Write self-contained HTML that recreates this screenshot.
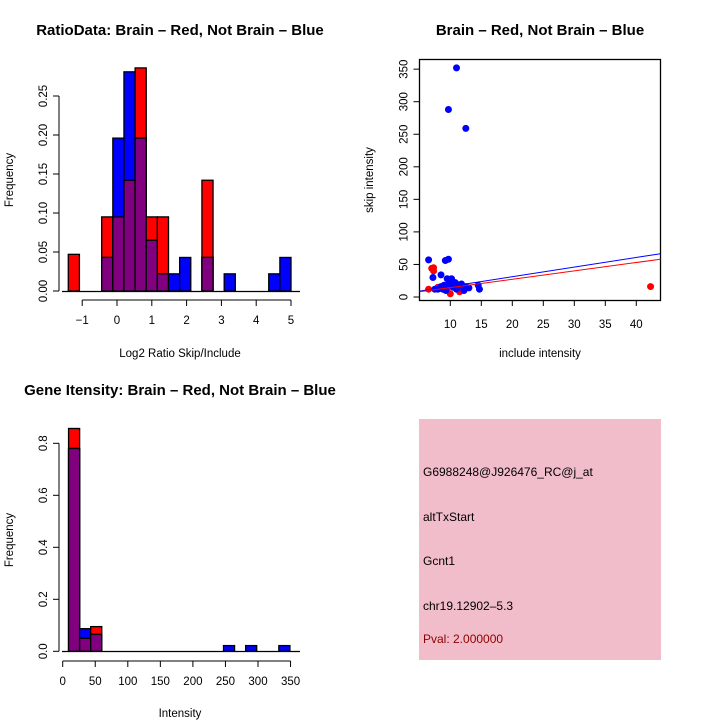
<!DOCTYPE html>
<html><head><meta charset="utf-8"><style>
body{margin:0;background:#fff}
svg{display:block;font-family:"Liberation Sans",sans-serif}
</style></head><body>
<svg id="s" width="720" height="720" viewBox="0 0 720 720">
<rect width="720" height="720" fill="#fff"/>
<text x="180" y="35" font-size="15" font-weight="bold" text-anchor="middle">RatioData: Brain – Red, Not Brain – Blue</text>
<text x="540" y="35" font-size="15" font-weight="bold" text-anchor="middle">Brain – Red, Not Brain – Blue</text>
<text x="180" y="395" font-size="15" font-weight="bold" text-anchor="middle">Gene Itensity: Brain – Red, Not Brain – Blue</text>
<text x="180" y="357" font-size="11.5" text-anchor="middle">Log2 Ratio Skip/Include</text>
<text x="13" y="180" font-size="11.5" text-anchor="middle" transform="rotate(-90 13 180)">Frequency</text>
<text x="540" y="357" font-size="11.5" text-anchor="middle">include intensity</text>
<text x="373" y="180" font-size="11.5" text-anchor="middle" transform="rotate(-90 373 180)">skip intensity</text>
<text x="180" y="717" font-size="11.5" text-anchor="middle">Intensity</text>
<text x="13" y="540" font-size="11.5" text-anchor="middle" transform="rotate(-90 13 540)">Frequency</text>
<g>
<rect x="419" y="419" width="242" height="241" fill="#f2bdca"/>
<g font-size="12">
<text x="423" y="476">G6988248@J926476_RC@j_at</text>
<text x="423" y="521">altTxStart</text>
<text x="423" y="565">Gcnt1</text>
<text x="423" y="610">chr19.12902–5.3</text>
<text x="423" y="643" fill="#8b0000">Pval: 2.000000</text>
</g></g>
<g id="g1"></g><g id="g2"></g><g id="g3"></g>
</svg>
<script>
// Ratio histogram data
const ratioBinStart = -1.4, ratioBinWidth = 0.32;
const ratioRed  = [0.047,0,0,0.095,0.095,0.142,0.286,0.095,0.095,0,0,0,0.142,0,0,0,0,0,0,0];
const ratioBlue = [0,0,0,0.043,0.196,0.281,0.196,0.065,0.022,0.022,0.043,0,0.043,0,0.022,0,0,0,0.022,0.043];
const ratioXTicks = [-1,0,1,2,3,4,5];
const ratioYTicks = ["0.00","0.05","0.10","0.15","0.20","0.25"];
// Intensity histogram data
const intBinStart = 9, intBinWidth = 17;
const intRed  = [0.857,0.05,0.095,0,0,0,0,0,0,0,0,0,0,0,0,0,0,0,0,0];
const intBlue = [0.78,0.087,0.065,0,0,0,0,0,0,0,0,0,0,0,0.022,0,0.022,0,0,0.022];
const intXTicks = [0,50,100,150,200,250,300,350];
const intYTicks = ["0.0","0.2","0.4","0.6","0.8"];
// Scatter data
const blueX = [11,9.7,12.5,6.5,9.2,9.7,8.5,7.2,9.5,10.2,10.8,9,11.5,12,12.5,13,8,8.8,10,11,14.7,14.5,9.3,10.5,7.5,12.2,9.8,11.8,8.5,10.3];
const blueY = [352,288,259,57,56,58,34,30,28,28,22,18,18,15,16,14,12,12,20,12,12,18,10,15,12,10,24,20,16,25];
const redX = [7,7.3,7.3,42.3,6.5,8,10,11,9.5,12,11.5];
const redY = [44,45,40,16,12,15,5,20,12,15,8];
const blueFit = [9,66.5]; const redFit = [8,58];
const scatXTicks = [10,15,20,25,30,35,40];
const scatYTicks = [0,50,100,150,200,250,300,350];
const NS="http://www.w3.org/2000/svg";
function mk(p,t,a){const e=document.createElementNS(NS,t);for(const k in a)e.setAttribute(k,a[k]);p.appendChild(e);return e;}
function yTick(g,x,y,lab){mk(g,'line',{x1:x-6,x2:x,y1:y,y2:y,stroke:'#000'});const t=mk(g,'text',{x:x-12,y:y,'font-size':11.5,'text-anchor':'middle',transform:`rotate(-90 ${x-12} ${y})`});t.textContent=lab;}
function hist(g,red,blue,start,w,sx,sy,name){
  for(let i=0;i<red.length;i++){
    const l=sx(start+i*w),r=sx(start+(i+1)*w);
    const rr=red[i],bb=blue[i],m=Math.min(rr,bb);
    if(rr>0){const e=mk(g,'rect',{x:l,y:sy(rr),width:r-l,height:sy(0)-sy(rr),fill:'#f00',stroke:'#000','stroke-width':1.3});
      }
    if(bb>0){const e=mk(g,'rect',{x:l,y:sy(bb),width:r-l,height:sy(0)-sy(bb),fill:'#00f',stroke:'#000','stroke-width':1.3});
      }
    if(m>0){const e=mk(g,'rect',{x:l,y:sy(m),width:r-l,height:sy(0)-sy(m),fill:'#800080',stroke:'#000','stroke-width':1.3});
      }
  }
}
// Plot 1
(function(){const g=document.getElementById('g1');

const sx=v=>117+v*34.8, sy=v=>291-v*780;
hist(g,ratioRed,ratioBlue,ratioBinStart,ratioBinWidth,sx,sy,'ratio');
mk(g,'line',{x1:62,x2:300,y1:291.5,y2:291.5,stroke:'#000','stroke-width':1.3});
mk(g,'line',{x1:59,x2:59,y1:sy(0),y2:sy(0.25),stroke:'#000'});
ratioYTicks.forEach(l=>yTick(g,59,sy(+l),l));
mk(g,'line',{x1:sx(-1),x2:sx(5),y1:300,y2:300,stroke:'#000'});
ratioXTicks.forEach(v=>{mk(g,'line',{x1:sx(v),x2:sx(v),y1:300,y2:306,stroke:'#000'});const t=mk(g,'text',{x:sx(v),y:324,'font-size':11.5,'text-anchor':'middle'});t.textContent=v<0?'−'+(-v):v;});
})();
// Plot 3
(function(){const g=document.getElementById('g3');

const sx=v=>62.7+v*0.651, sy=v=>651.3-v*260;
hist(g,intRed,intBlue,intBinStart,intBinWidth,sx,sy,'intensity');
mk(g,'line',{x1:62,x2:300,y1:651.5,y2:651.5,stroke:'#000','stroke-width':1.3});
mk(g,'line',{x1:59,x2:59,y1:sy(0),y2:sy(0.8),stroke:'#000'});
intYTicks.forEach(l=>yTick(g,59,sy(+l),l));
mk(g,'line',{x1:sx(0),x2:sx(350),y1:661,y2:661,stroke:'#000'});
intXTicks.forEach(v=>{mk(g,'line',{x1:sx(v),x2:sx(v),y1:661,y2:667,stroke:'#000'});const t=mk(g,'text',{x:sx(v),y:685,'font-size':11.5,'text-anchor':'middle'});t.textContent=v;});
})();
// Plot 2
(function(){const g=document.getElementById('g2');

const sx=v=>450.3+(v-10)*6.2, sy=v=>297-v*0.651;
mk(g,'rect',{x:419.5,y:59.5,width:241,height:241,fill:'none',stroke:'#000','stroke-width':1.3});
scatYTicks.forEach(v=>yTick(g,419.5,sy(v),String(v)));
scatXTicks.forEach(v=>{mk(g,'line',{x1:sx(v),x2:sx(v),y1:300.5,y2:306,stroke:'#000'});const t=mk(g,'text',{x:sx(v),y:328,'font-size':11.5,'text-anchor':'middle'});t.textContent=v;});
const x0=(419.5-450.3)/6.2+10, x1=(660.5-450.3)/6.2+10;
redX.forEach((x,i)=>{const c=mk(g,'circle',{cx:sx(x),cy:sy(redY[i]),r:3.5,fill:'#f00'});
});
blueX.forEach((x,i)=>{const c=mk(g,'circle',{cx:sx(x),cy:sy(blueY[i]),r:3.5,fill:'#00f'});
});
const bl=mk(g,'line',{x1:sx(x0),y1:sy(blueFit[0]),x2:sx(x1),y2:sy(blueFit[1]),stroke:'#00f'});

const rl=mk(g,'line',{x1:sx(x0),y1:sy(redFit[0]),x2:sx(x1),y2:sy(redFit[1]),stroke:'#f00'});

})();
</script>
</body></html>
